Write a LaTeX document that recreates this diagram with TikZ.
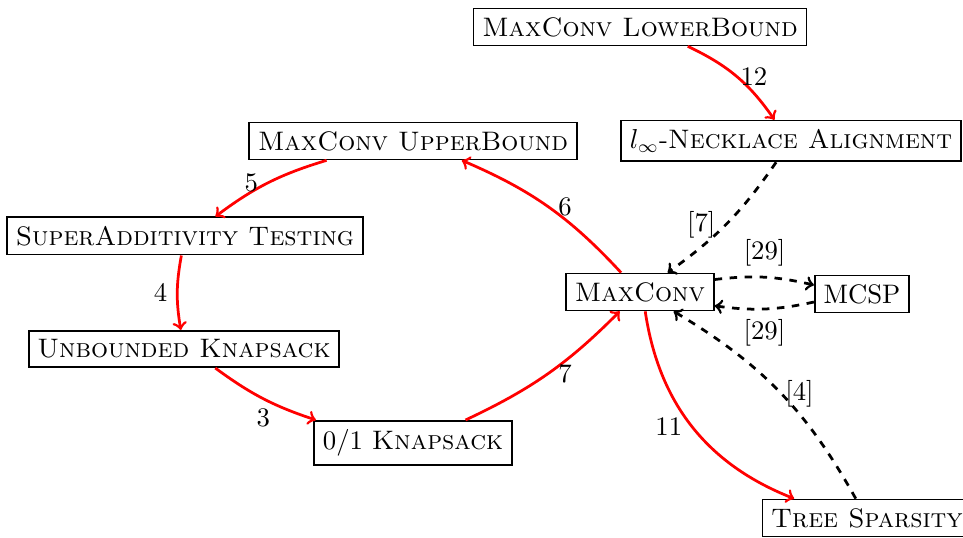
\documentclass[tikz,border=0pt]{standalone}
\usetikzlibrary{arrows}
\begin{document}
\begin{tikzpicture}[x=0.4pt,y=0.4pt,
  font=\fontsize{10.7pt}{13pt}\selectfont,
  box/.style={draw,line width=0.7pt,fill=white,inner sep=3.5pt},
  redarr/.style={->,red,line width=1.1pt},
  refarr/.style={->,black,line width=1.1pt,dashed},
  lbl/.style={inner sep=3.5pt,text=black}]
\useasboundingbox (0,0) rectangle (963,-538);
\node[box] (lb) at (640,-27) {\textsc{MaxConv LowerBound}};
\node[box] (nl) at (791,-141) {$l_\infty$-\textsc{Necklace Alignment}};
\node[box] (ub) at (413,-141) {\textsc{MaxConv UpperBound}};
\node[box] (sa) at (185,-236) {\textsc{SuperAdditivity Testing}};
\node[box] (mc) at (640,-292) {\textsc{MaxConv}};
\node[box] (mcsp) at (862,-294) {MCSP};
\node[box] (uk) at (184,-349) {\textsc{Unbounded Knapsack}};
\node[box] (ks) at (413,-443) {0/1 \textsc{Knapsack}};
\node[box] (ts) at (867,-518) {\textsc{Tree Sparsity}};

\draw[redarr] (lb) to[bend left=15] node[pos=0.5,right,inner sep=1pt,text=black] {12} (nl);
\draw[refarr] (nl) to[bend left=10] node[lbl,pos=0.52,left] {[7]} (mc);
\draw[redarr] (mc) to[bend right=12] node[lbl,pos=0.5,right] {6} (ub);
\draw[redarr] (ub) to[bend right=10] node[lbl,pos=0.5,left] {5} (sa);
\draw[redarr] (sa) to[bend right=10] node[lbl,pos=0.5,left] {4} (uk);
\draw[redarr] (uk) to[bend right=9] node[lbl,pos=0.5,below] {3} (ks);
\draw[redarr] (ks) to[bend right=10] node[lbl,pos=0.5,right] {7} (mc);
\draw[redarr] (mc) to[bend right=30] node[lbl,pos=0.5,left] {11} (ts);
\draw[refarr] (ts) to[bend right=15] node[pos=0.485,right,inner sep=1pt,text=black] {[4]} (mc);
\draw[refarr] (mc) to[bend left=10] node[lbl,pos=0.5,above=0.5pt] {[29]} (mcsp);
\draw[refarr] (mcsp) to[bend left=10] node[lbl,pos=0.5,below] {[29]} (mc);
\end{tikzpicture}
\end{document}
